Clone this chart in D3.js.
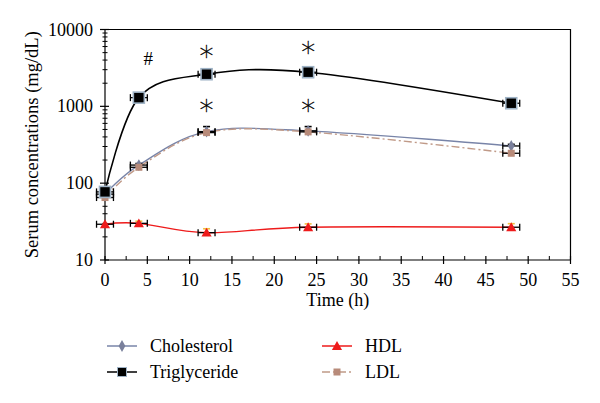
<!DOCTYPE html>
<html><head><meta charset="utf-8">
<script src="https://cdn.jsdelivr.net/npm/d3@7"></script>
<style>body{margin:0;background:#fff}svg{display:block}text{font-family:"Liberation Serif","Times New Roman",serif}</style>
</head><body>
<svg id="c" width="600" height="403"></svg>
<script>
const times = [0, 4, 12, 24, 48];
const cholesterol = [72, 172, 469, 480, 305];
const triglyceride = [77, 1298, 2618, 2780, 1097];
const hdl = [29.2, 30, 22.7, 26.7, 26.7];
const ldl = [65, 161, 455, 465, 245];
const cholUpper = [null, 180, 545, 545, 320];
const trigUpper = [85, 1350, 3050, 3000, 1180];
const hdlUpper = [null, 32, 25.5, 29.5, 29.7];
const timeErr = [1, 1, 1, 1, 1];
const xTicks = [0, 5, 10, 15, 20, 25, 30, 35, 40, 45, 50, 55];
const yTicks = [10, 100, 1000, 10000];
const sigMarks = [
  {t: 5.1, v: 4270, s: "#"},
  {t: 12, v: 5500, s: "*"},
  {t: 12, v: 1110, s: "*"},
  {t: 24, v: 6300, s: "*"},
  {t: 24, v: 1110, s: "*"}
];

const svg = d3.select("#c");
const L = 105, R = 570.5, T = 29.5, B = 260;
const x = d3.scaleLinear().domain([0, 55]).range([L, R]);
const y = d3.scaleLog().domain([10, 10000]).range([B, T]);

// frame top/right
svg.append("path").attr("d", `M${L},${T}H${R}V${B}`).attr("fill", "none").attr("stroke", "#000").attr("stroke-width", 1.2);

// y axis
const ya = svg.append("g");
ya.append("line").attr("x1", L).attr("x2", L).attr("y1", T).attr("y2", B).attr("stroke", "#000").attr("stroke-width", 1.2);
const minors = [];
for (let d = 10; d < 10000; d *= 10) for (let k = 2; k <= 9; k++) minors.push(d * k);
ya.selectAll(".ym").data(minors).join("line").attr("x1", L - 2.5).attr("x2", L + 2.5)
  .attr("y1", d => y(d)).attr("y2", d => y(d)).attr("stroke", "#000");
ya.selectAll(".yM").data(yTicks).join("line").attr("x1", L - 5).attr("x2", L + 4)
  .attr("y1", d => y(d)).attr("y2", d => y(d)).attr("stroke", "#000").attr("stroke-width", 1.2);
ya.selectAll("text").data(yTicks).join("text").attr("x", L - 12).attr("y", d => y(d) + 6)
  .attr("text-anchor", "end").attr("font-size", 18).text(d => d);

// x axis
const xa = svg.append("g");
xa.append("line").attr("x1", L).attr("x2", R).attr("y1", B).attr("y2", B).attr("stroke", "#000").attr("stroke-width", 1.2);
xa.selectAll(".xM").data(xTicks).join("line").attr("x1", d => x(d)).attr("x2", d => x(d))
  .attr("y1", B - 4).attr("y2", B + 4).attr("stroke", "#000").attr("stroke-width", 1.2);
const xMin = d3.range(2.5, 55, 5);
xa.selectAll(".xm").data(xMin).join("line").attr("x1", d => x(d)).attr("x2", d => x(d))
  .attr("y1", B - 4).attr("y2", B).attr("stroke", "#000");
xa.selectAll("text").data(xTicks).join("text").attr("x", d => x(d)).attr("y", B + 26)
  .attr("text-anchor", "middle").attr("font-size", 18).text(d => d);

svg.append("text").attr("x", (L + R) / 2).attr("y", 306).attr("text-anchor", "middle")
  .attr("font-size", 18).text("Time (h)");
svg.append("text").attr("transform", `translate(38,${(T + B) / 2 + 0}) rotate(-90)`)
  .attr("text-anchor", "middle").attr("font-size", 18.5).text("Serum concentrations (mg/dL)");

const curve = d3.curveCardinal.tension(0);
const series = [
  {name: "Cholesterol", vals: cholesterol, color: "#7884a8", dash: null, mk: "diamond", mfill: "#7a809c"},
  {name: "LDL", vals: ldl, color: "#c09a88", dash: "8,3,2,3", mk: "square", mfill: "#b88b7a"},
  {name: "HDL", vals: hdl, color: "#ee1b1b", dash: null, mk: "triangle", mfill: "#ee1b1b"},
  {name: "Triglyceride", vals: triglyceride, color: "#000", dash: null, mk: "bigsquare", mfill: "#000"}
];
const line = d3.line().curve(curve);
series.forEach(s => {
  svg.append("path").attr("d", line(times.map((t, i) => [x(t), y(s.vals[i])])))
    .attr("fill", "none").attr("stroke", s.color).attr("stroke-width", s.name === "Triglyceride" ? 1.6 : 1.4)
    .attr("stroke-dasharray", s.dash);
});

// vertical error bars (upper)
function vErr(vals, up, color) {
  times.forEach((t, i) => {
    if (up[i] == null) return;
    const g = svg.append("g").attr("stroke", color).attr("stroke-width", 1.3);
    g.append("line").attr("x1", x(t)).attr("x2", x(t)).attr("y1", y(vals[i])).attr("y2", y(up[i]));
    g.append("line").attr("x1", x(t) - 3.5).attr("x2", x(t) + 3.5).attr("y1", y(up[i])).attr("y2", y(up[i])).attr("stroke-width", 1.6);
  });
}
vErr(cholesterol, cholUpper, "#000");
vErr(triglyceride, trigUpper, "#000");
vErr(hdl, hdlUpper, "#f2c040");

// horizontal error bars
function hErr(vals) {
  times.forEach((t, i) => {
    const g = svg.append("g").attr("stroke", "#000").attr("stroke-width", 1.3);
    const yy = y(vals[i]);
    g.append("line").attr("x1", x(t - timeErr[i])).attr("x2", x(t + timeErr[i])).attr("y1", yy).attr("y2", yy);
    [-1, 1].forEach(sg => g.append("line").attr("x1", x(t + sg * timeErr[i])).attr("x2", x(t + sg * timeErr[i]))
      .attr("y1", yy - 3.5).attr("y2", yy + 3.5));
  });
}
hErr(cholesterol); hErr(ldl); hErr(hdl); hErr(triglyceride);

// markers
const symDiamond = d3.symbol().type(d3.symbolDiamond).size(40);
const symTri = d3.symbol().type(d3.symbolTriangle).size(45);
function marker(g, kind, cx, cy, fill) {
  if (kind === "diamond") g.append("path").attr("d", symDiamond()).attr("transform", `translate(${cx},${cy})`).attr("fill", fill);
  else if (kind === "triangle") g.append("path").attr("d", symTri()).attr("transform", `translate(${cx},${cy + 1})`).attr("fill", fill);
  else if (kind === "square") g.append("rect").attr("x", cx - 3.5).attr("y", cy - 3.5).attr("width", 7).attr("height", 7).attr("fill", fill);
  else g.append("rect").attr("x", cx - 5.5).attr("y", cy - 5.5).attr("width", 11).attr("height", 11).attr("fill", fill)
    .attr("stroke", "#9fb3c6").attr("stroke-width", 1.6);
}
series.forEach(s => {
  const g = svg.append("g");
  times.forEach((t, i) => marker(g, s.mk, x(t), y(s.vals[i]), s.mfill));
});

// significance marks
svg.selectAll(".sig").data(sigMarks).join("text")
  .attr("x", d => x(d.t)).attr("y", d => y(d.v) + (d.s === "*" ? 17 : 7))
  .attr("text-anchor", "middle").attr("font-size", d => d.s === "*" ? 28 : 19)
  .style("font-family", d => d.s === "*" ? "'DejaVu Sans'" : null)
  .style("font-weight", d => d.s === "*" ? 200 : null)
  .attr("fill", "#000")
  .attr("stroke", d => d.s === "*" ? "#000" : null).attr("stroke-width", d => d.s === "*" ? 0.3 : null)
  .text(d => d.s);

// legend
const legend = [
  {s: series[0], lx: 107, ly: 346},
  {s: series[3], lx: 107, ly: 372},
  {s: series[2], lx: 322, ly: 346},
  {s: series[1], lx: 322, ly: 372}
];
legend.forEach(l => {
  const g = svg.append("g");
  g.append("line").attr("x1", l.lx).attr("x2", l.lx + 30).attr("y1", l.ly).attr("y2", l.ly)
    .attr("stroke", l.s.color).attr("stroke-width", 1.5).attr("stroke-dasharray", l.s.dash);
  const mk = l.s.mk === "bigsquare" ? "legsq" : l.s.mk;
  if (mk === "legsq") g.append("rect").attr("x", l.lx + 10.5).attr("y", l.ly - 4.5).attr("width", 9).attr("height", 9).attr("fill", "#000").attr("stroke", "#9fb3c6");
  else marker(g, mk, l.lx + 15, l.ly, l.s.mfill);
  g.append("text").attr("x", l.lx + 43).attr("y", l.ly + 6).attr("font-size", 18).text(l.s.name);
});
</script>
</body></html>
